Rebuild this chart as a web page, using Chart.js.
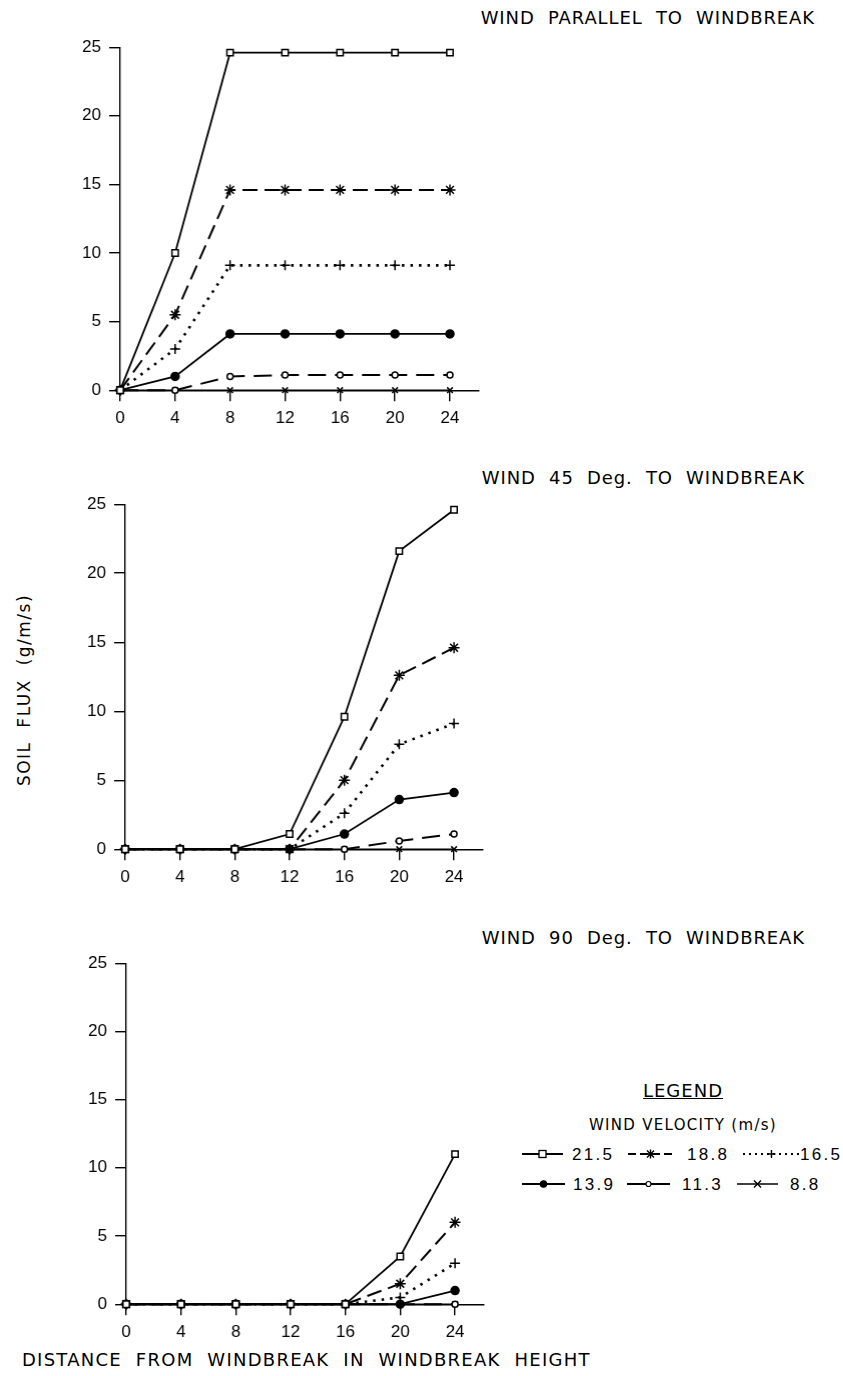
<!DOCTYPE html>
<html>
<head>
<meta charset="utf-8">
<script src="https://cdn.jsdelivr.net/npm/chart.js@4.4.0/dist/chart.umd.min.js"></script>
<style>
    body { margin: 0; background: #fff; width: 843px; height: 1376px; position: relative; overflow: hidden; font-family: "DejaVu Sans", sans-serif; color: #000; }
    .panel { position: absolute; }
    .label { position: absolute; white-space: pre; font-size: 18px; letter-spacing: 0.9px; line-height: 1; }
    .ytitle { position: absolute; left: 24px; top: 690px; font-size: 17px; letter-spacing: 1.5px; white-space: pre; line-height: 1; transform: translate(-50%, -50%) rotate(-90deg); }
    .legend-text { position: absolute; white-space: pre; line-height: 1; transform: translate(-50%, -50%); }
    .legend-item { position: absolute; white-space: pre; line-height: 1; font-family: "Liberation Sans", Arial, sans-serif; font-size: 17px; letter-spacing: 2.3px; transform: translateY(-50%); }
    .legend-sample { position: absolute; transform: translateY(-50%); }
</style>
</head>
<body>

<div class="label" style="right:28px; top:9px;">WIND  PARALLEL  TO  WINDBREAK</div>
<div class="label" style="right:38px; top:469px;">WIND  45  Deg.  TO  WINDBREAK</div>
<div class="label" style="right:38px; top:929px;">WIND  90  Deg.  TO  WINDBREAK</div>
<div class="ytitle">SOIL  FLUX  (g/m/s)</div>
<div class="label" style="left:22px; top:1351px; letter-spacing:1.25px;">DISTANCE  FROM  WINDBREAK  IN  WINDBREAK  HEIGHT</div>

<div class="panel" id="p1"><canvas id="chart-parallel"></canvas></div>
<div class="panel" id="p2"><canvas id="chart-45"></canvas></div>
<div class="panel" id="p3"><canvas id="chart-90"></canvas></div>

<div id="legend">
    <div class="legend-text" style="left:683px; top:1091px; font-size:18px; letter-spacing:1px; text-decoration:underline;">LEGEND</div>
    <div class="legend-text" style="left:683px; top:1125px; font-size:15px; letter-spacing:1.3px;">WIND VELOCITY (m/s)</div>
</div>

<script>
// Distance from windbreak (in windbreak heights)
const distances = [0, 4, 8, 12, 16, 20, 24];
const xTicks = [0, 4, 8, 12, 16, 20, 24];
const yTicks = [0, 5, 10, 15, 20, 25];

// Wind velocities (m/s), one series per velocity
const velocities = ['21.5', '18.8', '16.5', '13.9', '11.3', '8.8'];

// Soil flux (g/m/s), wind parallel to windbreak
const parallel215 = [0, 10, 24.6, 24.6, 24.6, 24.6, 24.6];
const parallel188 = [0, 5.5, 14.6, 14.6, 14.6, 14.6, 14.6];
const parallel165 = [0, 3, 9.1, 9.1, 9.1, 9.1, 9.1];
const parallel139 = [0, 1, 4.1, 4.1, 4.1, 4.1, 4.1];
const parallel113 = [0, 0, 1, 1.1, 1.1, 1.1, 1.1];
const parallel88  = [0, 0, 0, 0, 0, 0, 0];

// Soil flux, wind 45 deg. to windbreak
const deg45_215 = [0, 0, 0, 1.1, 9.6, 21.6, 24.6];
const deg45_188 = [0, 0, 0, 0, 5, 12.6, 14.6];
const deg45_165 = [0, 0, 0, 0, 2.6, 7.6, 9.1];
const deg45_139 = [0, 0, 0, 0, 1.1, 3.6, 4.1];
const deg45_113 = [0, 0, 0, 0, 0, 0.6, 1.1];
const deg45_88  = [0, 0, 0, 0, 0, 0, 0];

// Soil flux, wind 90 deg. to windbreak
const deg90_215 = [0, 0, 0, 0, 0, 3.5, 11];
const deg90_188 = [0, 0, 0, 0, 0, 1.5, 6];
const deg90_165 = [0, 0, 0, 0, 0, 0.5, 3];
const deg90_139 = [0, 0, 0, 0, 0, 0, 1];
const deg90_113 = [0, 0, 0, 0, 0, 0, 0];
const deg90_88  = [0, 0, 0, 0, 0, 0, 0];

// Line/marker style per velocity (legendDash = dash used in the legend sample)
const styles = [
    { pointStyle: 'rect',     radius: 4.5, fill: '#fff', dash: [],       legendDash: [],       width: 1.8 },
    { pointStyle: 'star',     radius: 5.5, fill: '#000', dash: [15, 7],  legendDash: [8, 4],   width: 2 },
    { pointStyle: 'cross',    radius: 5,   fill: '#000', dash: [2.5, 6], legendDash: [2, 4],   width: 2.6 },
    { pointStyle: 'circle',   radius: 4,   fill: '#000', dash: [],       legendDash: [],       width: 1.8 },
    { pointStyle: 'circle',   radius: 3,   fill: '#fff', dash: [18, 9],  legendDash: [],       width: 2 },
    { pointStyle: 'crossRot', radius: 4,   fill: '#000', dash: [],       legendDash: [],       width: 1.6 }
];

const FONT = { family: '"Liberation Sans", Arial, sans-serif', size: 17 };
const X_AXIS_H = 45;
const X_MAX = 26.1;

function makeDatasets(series) {
    return series.map((values, i) => ({
        label: velocities[i],
        data: distances.map((d, j) => ({ x: d, y: values[j] })),
        borderColor: '#000',
        borderWidth: styles[i].width,
        borderDash: styles[i].dash,
        pointStyle: styles[i].pointStyle,
        pointRadius: styles[i].radius,
        pointBackgroundColor: styles[i].fill,
        pointBorderColor: '#000',
        pointBorderWidth: 1.5,
        tension: 0,
        clip: false
    }));
}

// left/right = page x of distance 0 and 24, top/bottom = page y of flux 25 and 0
function makePanel(wrapId, canvasId, series, left, right, top, bottom) {
    const wrap = document.getElementById(wrapId);
    let w = 460, h = (bottom - top) + 60;
    wrap.style.width = w + 'px';
    wrap.style.height = h + 'px';

    const ctx = document.getElementById(canvasId).getContext('2d');
    const chart = new Chart(ctx, {
        type: 'line',
        data: { datasets: makeDatasets(series) },
        options: {
            responsive: true,
            maintainAspectRatio: false,
            animation: false,
            layout: { padding: { top: 15, right: 10, left: 0, bottom: 0 } },
            plugins: { legend: { display: false }, tooltip: { enabled: false } },
            scales: {
                x: {
                    type: 'linear',
                    min: 0,
                    max: X_MAX,
                    afterBuildTicks: (scale) => { scale.ticks = xTicks.map(v => ({ value: v })); },
                    afterFit: (scale) => { scale.height = X_AXIS_H; },
                    grid: { drawOnChartArea: false, drawTicks: true, tickLength: 11, color: '#000', lineWidth: 1.4 },
                    border: { display: true, color: '#000', width: 1.4 },
                    ticks: { color: '#000', font: FONT, padding: 7, maxRotation: 0 }
                },
                y: {
                    min: 0,
                    max: 25,
                    afterBuildTicks: (scale) => { scale.ticks = yTicks.map(v => ({ value: v })); },
                    afterFit: (scale) => { scale.width = 80; },
                    grid: { drawOnChartArea: false, drawTicks: true, tickLength: 11, color: '#000', lineWidth: 1.4 },
                    border: { display: true, color: '#000', width: 1.4 },
                    ticks: { color: '#000', font: FONT, padding: 8 }
                }
            }
        }
    });

    // resize so the plot spans the wanted page box, then move it into place
    const xs = chart.scales.x, ys = chart.scales.y;
    w += (right - left) - (xs.getPixelForValue(24) - xs.getPixelForValue(0));
    h += (bottom - top) - (ys.getPixelForValue(0) - ys.getPixelForValue(25));
    wrap.style.width = w + 'px';
    wrap.style.height = h + 'px';
    chart.resize(w, h);
    wrap.style.left = (left - chart.scales.x.getPixelForValue(0)) + 'px';
    wrap.style.top = (top - chart.scales.y.getPixelForValue(25)) + 'px';
    return chart;
}

makePanel('p1', 'chart-parallel',
    [parallel215, parallel188, parallel165, parallel139, parallel113, parallel88], 120, 448, 47, 390);
makePanel('p2', 'chart-45',
    [deg45_215, deg45_188, deg45_165, deg45_139, deg45_113, deg45_88], 125, 452, 504, 849);
makePanel('p3', 'chart-90',
    [deg90_215, deg90_188, deg90_165, deg90_139, deg90_113, deg90_88], 126, 453, 963, 1304);

// Legend samples: short line with the series marker in the middle
function sampleSvg(i, sw) {
    const s = styles[i];
    const dash = s.legendDash.length ? `stroke-dasharray="${s.legendDash.join(' ')}"` : '';
    const cx = sw / 2, cy = 8;
    let marker = '';
    if (s.pointStyle === 'rect') marker = `<rect x="${cx - 3.5}" y="${cy - 3.5}" width="7" height="7" fill="#fff" stroke="#000" stroke-width="1.3"/>`;
    else if (s.pointStyle === 'circle') marker = `<circle cx="${cx}" cy="${cy}" r="${s.fill === '#fff' ? 2.5 : 3.2}" fill="${s.fill}" stroke="#000" stroke-width="1.2"/>`;
    else if (s.pointStyle === 'cross') marker = `<path d="M${cx - 4} ${cy}H${cx + 4}M${cx} ${cy - 4}V${cy + 4}" stroke="#000" stroke-width="1.4"/>`;
    else if (s.pointStyle === 'crossRot') marker = `<path d="M${cx - 3.5} ${cy - 3.5}L${cx + 3.5} ${cy + 3.5}M${cx + 3.5} ${cy - 3.5}L${cx - 3.5} ${cy + 3.5}" stroke="#000" stroke-width="1.4"/>`;
    else marker = `<path d="M${cx - 4.5} ${cy}H${cx + 4.5}M${cx} ${cy - 4.5}V${cy + 4.5}M${cx - 3.5} ${cy - 3.5}L${cx + 3.5} ${cy + 3.5}M${cx + 3.5} ${cy - 3.5}L${cx - 3.5} ${cy + 3.5}" stroke="#000" stroke-width="1.4"/>`;
    return `<svg width="${sw}" height="16"><line x1="0" y1="${cy}" x2="${sw}" y2="${cy}" stroke="#000" stroke-width="${Math.min(s.width, 2)}" ${dash}/>${marker}</svg>`;
}

// sample x, sample width, text x, row y for each legend entry
const slots = [
    [522, 41, 572, 1154], [628, 45, 687, 1154], [743, 57, 800, 1154],
    [522, 43, 573, 1184], [627, 43, 682, 1184], [737, 41, 790, 1184]
];
const legend = document.getElementById('legend');
velocities.forEach((v, i) => {
    const [sx, sw, tx, ty] = slots[i];
    legend.insertAdjacentHTML('beforeend',
        `<div class="legend-sample" style="left:${sx}px; top:${ty}px; height:16px;">${sampleSvg(i, sw)}</div>` +
        `<div class="legend-item" style="left:${tx}px; top:${ty}px;">${v}</div>`);
});
</script>
</body>
</html>
